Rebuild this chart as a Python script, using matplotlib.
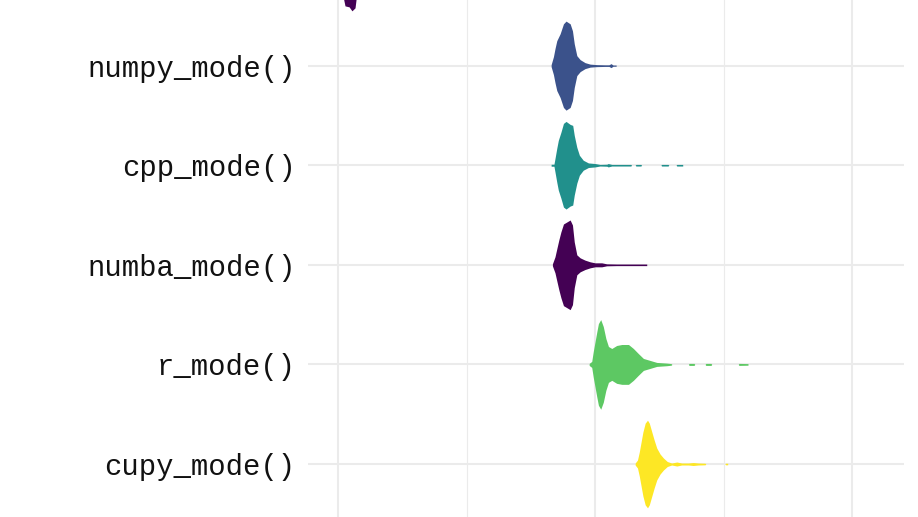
import matplotlib.pyplot as plt
from matplotlib.ticker import MultipleLocator

# Categories, bottom to top (the top one is cut off in the picture)
labels = ["cupy_mode()", "r_mode()", "numba_mode()", "cpp_mode()", "numpy_mode()", ""]
colors = ["#FDE725", "#5DC863", "#440154", "#21908C", "#3B528B", "#440154"]

# Violin profiles: x position and half width (in category units)
cupy_x = [115.6, 116.5, 117.2, 117.9, 118.6, 119.5, 120.4, 121.1, 122.1, 123.0, 124.0, 125.3,
          126.6, 128.1, 129.8, 131.8, 133.7, 136.3, 138.2, 140.1, 142.8, 143.1, 150.5, 150.8, 151.6]
cupy_w = [0.01, 0.04, 0.12, 0.22, 0.32, 0.41, 0.44, 0.41, 0.32, 0.24, 0.16, 0.10,
          0.06, 0.025, 0.01, 0.02, 0.01, 0.01, 0.015, 0.01, 0.008, 0.0, 0.0, 0.008, 0.008]

r_x = [97.7, 98.7, 99.3, 100.0, 100.7, 101.3, 102.2, 103.2, 104.2, 105.2, 106.5, 108.4,
       110.4, 113.0, 114.9, 116.8, 118.8, 121.4, 124.0, 127.9, 129.6, 129.9,
       136.3, 136.6, 138.5, 138.8, 142.8, 143.1, 145.1, 145.4, 155.7, 156.0, 159.5]
r_w = [0.01, 0.03, 0.13, 0.23, 0.33, 0.41, 0.45, 0.38, 0.26, 0.18, 0.16, 0.19,
       0.20, 0.20, 0.16, 0.11, 0.06, 0.04, 0.02, 0.013, 0.008, 0.0,
       0.0, 0.01, 0.01, 0.0, 0.0, 0.01, 0.01, 0.0, 0.0, 0.01, 0.008]

numba_x = [83.4, 84.4, 85.1, 85.9, 86.7, 87.7, 89.0, 90.3, 91.2, 91.9, 92.9, 94.2,
           96.1, 98.1, 100.0, 102.6, 104.5, 108.4, 120.1]
numba_w = [0.01, 0.08, 0.16, 0.25, 0.33, 0.41, 0.43, 0.45, 0.40, 0.23, 0.10, 0.07,
           0.047, 0.03, 0.02, 0.02, 0.01, 0.008, 0.008]

cpp_x = [82.9, 84.0, 84.4, 85.1, 85.7, 86.7, 87.7, 88.7, 90.3, 91.3, 91.9, 92.9, 93.9,
         95.4, 97.4, 100.0, 101.9, 104.6, 105.1, 106.5, 113.9, 114.2,
         115.6, 115.9, 117.8, 118.1, 125.6, 125.9, 128.4, 128.7, 131.5, 131.8, 134.1]
cpp_w = [0.01, 0.01, 0.067, 0.17, 0.25, 0.33, 0.42, 0.44, 0.41, 0.40, 0.30, 0.18, 0.10,
         0.05, 0.023, 0.017, 0.008, 0.01, 0.017, 0.008, 0.008, 0.0,
         0.0, 0.008, 0.008, 0.0, 0.0, 0.008, 0.008, 0.0, 0.0, 0.008, 0.008]

numpy_x = [82.9, 83.8, 84.4, 85.1, 86.4, 87.7, 88.7, 90.3, 91.2, 91.9, 92.9, 94.2,
           96.1, 98.1, 100.7, 103.9, 105.4, 106.2, 107.0, 108.2]
numpy_w = [0.01, 0.09, 0.17, 0.25, 0.32, 0.42, 0.447, 0.42, 0.35, 0.22, 0.10, 0.06,
           0.03, 0.015, 0.01, 0.008, 0.008, 0.02, 0.006, 0.006]

top_x = [0.0, 1.2, 1.9, 2.7, 4.3, 5.4, 6.6, 7.4, 8.6, 10.5, 13.2]
top_w = [0.01, 0.15, 0.30, 0.40, 0.41, 0.45, 0.42, 0.25, 0.10, 0.04, 0.01]

profiles = [(cupy_x, cupy_w), (r_x, r_w), (numba_x, numba_w),
            (cpp_x, cpp_w), (numpy_x, numpy_w), (top_x, top_w)]

fig = plt.figure(figsize=(9.18, 5.17), dpi=100)
ax = fig.add_axes([308 / 918, 0, 596 / 918, 1])

for i, (xs, ws) in enumerate(profiles):
    pos = i + 1
    lo = [pos - w for w in ws]
    hi = [pos + w for w in ws]
    ax.fill_between(xs, lo, hi, color=colors[i], linewidth=0, zorder=3)

ax.set_yticks(range(1, len(labels) + 1))
ax.set_yticklabels(labels, family="Liberation Mono", fontsize=20.8, color="#111111")
ax.xaxis.set_major_locator(MultipleLocator(100))
ax.xaxis.set_minor_locator(MultipleLocator(50))

# the picture is a crop: limits set after the ticks so they are not widened
ax.set_xlim(-11.7, 220.2)
ax.set_ylim(0.468, 5.659)

ax.grid(which="major", color="#EBEBEB", linewidth=1.5)
ax.grid(which="minor", axis="x", color="#EBEBEB", linewidth=0.8)
ax.set_axisbelow(True)
ax.tick_params(which="both", length=0, labelbottom=False)
ax.tick_params(axis="y", pad=9)
for s in ax.spines.values():
    s.set_visible(False)

fig.savefig("out.png", dpi=100)
